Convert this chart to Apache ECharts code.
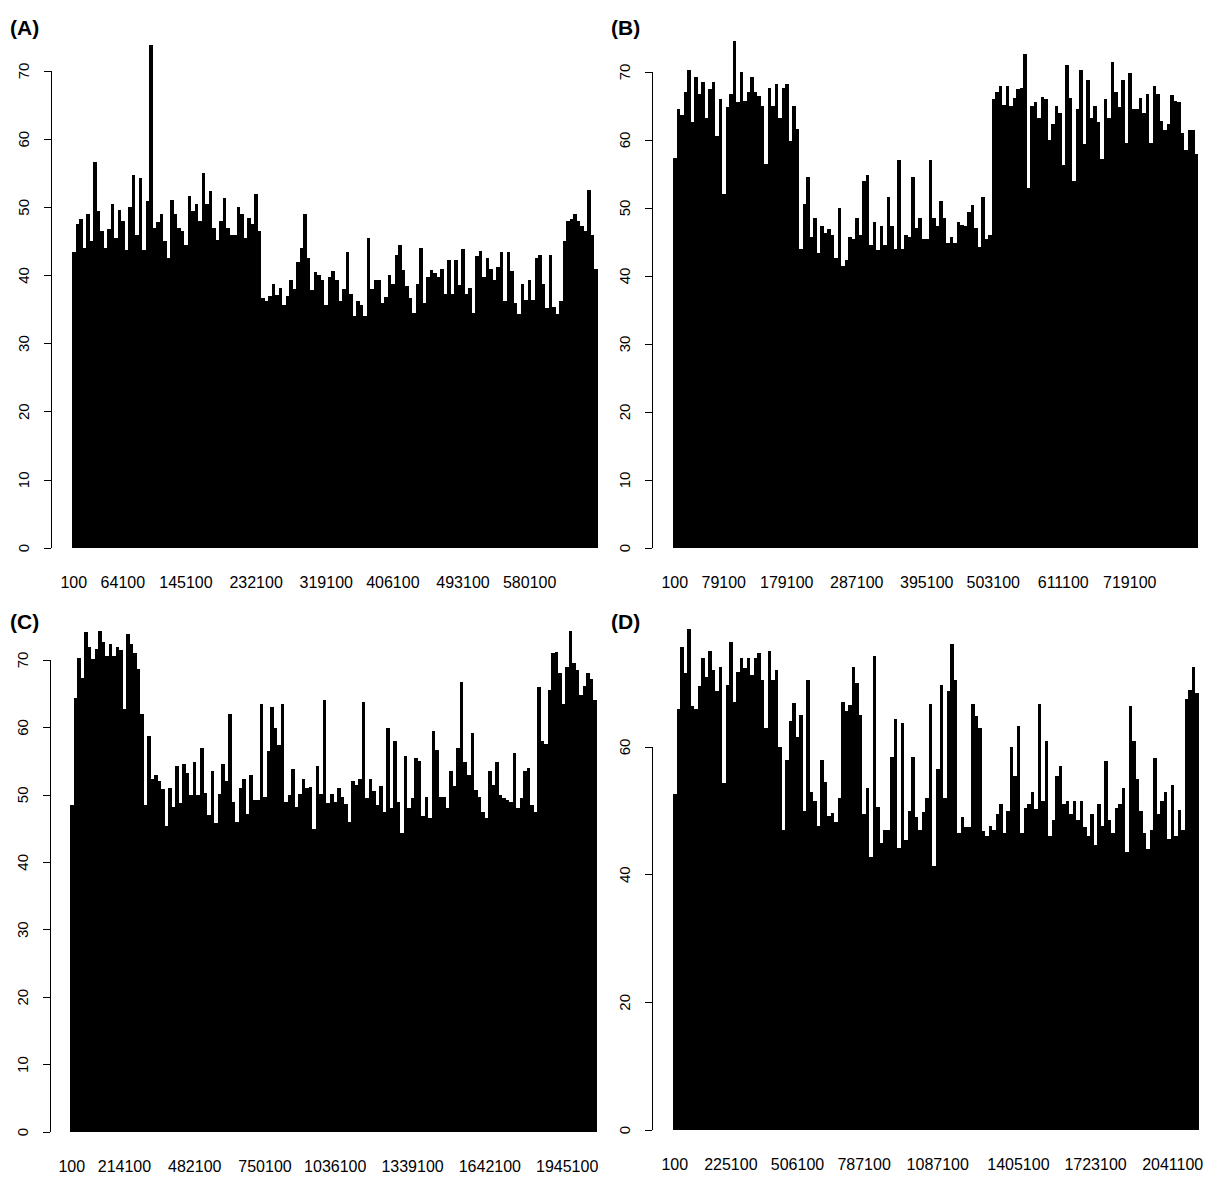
<!DOCTYPE html>
<html>
<head>
<meta charset="utf-8">
<script src="https://cdn.jsdelivr.net/npm/echarts@6/dist/echarts.min.js"></script>
<style>
  html, body { margin: 0; padding: 0; background: #fff; }
  #main { width: 1209px; height: 1177px; }
  /* snap bar edges to whole pixels so neighbouring bars leave no grey seam */
  #main path { shape-rendering: crispEdges; }
</style>
</head>
<body>
<div id="main"></div>
<script>
// bar heights (one value per bar, left to right)
var valuesA = [
  43.4, 47.5, 48.3, 44.0, 49.0, 45.0, 56.6, 49.5, 46.5, 44.0,
  46.8, 50.5, 45.5, 49.6, 48.0, 43.7, 50.0, 54.7, 46.0, 54.3,
  43.7, 50.9, 73.8, 47.0, 47.8, 49.0, 45.0, 42.5, 51.0, 49.0,
  47.0, 46.5, 44.5, 51.7, 49.5, 50.5, 48.0, 55.0, 50.5, 52.4,
  47.0, 45.2, 48.0, 51.3, 47.0, 46.0, 46.0, 50.0, 49.0, 45.5,
  48.5, 47.5, 52.0, 46.5,
  36.7, 36.2, 37.0, 38.8, 37.2, 38.2, 35.7, 37.0, 39.3, 38.0,
  42.0, 44.0, 49.0, 42.5, 37.8, 40.5, 40.0, 39.3, 35.7, 39.8,
  40.6, 39.3, 36.2, 38.0, 43.5, 37.3, 34.0, 36.2, 35.7, 34.0,
  45.5, 38.0, 39.4, 39.3, 35.9, 36.8, 40.0, 38.8, 43.0, 44.5,
  40.8, 38.4, 36.7, 34.5, 38.8, 44.0, 35.9, 39.8, 40.8, 40.3,
  39.8, 41.0, 37.3, 42.3, 37.3, 42.2, 38.6, 43.9, 37.3, 38.2,
  34.5, 42.8, 43.6, 39.8, 42.6, 41.0, 39.3, 41.3, 43.5, 36.2,
  43.5, 40.6, 35.9, 34.3, 38.8, 36.4, 39.3, 36.4, 42.5, 43.0,
  38.8, 35.2, 43.0, 35.3, 34.3, 36.2,
  45.0, 48.0, 48.3, 49.0, 48.0, 47.3, 46.5, 52.6, 46.0, 41.0
];
var valuesB = [
  57.3, 64.5, 63.7, 67.0, 70.3, 62.6, 69.3, 66.7, 68.6, 63.3,
  67.5, 68.6, 60.6, 66.0, 52.0, 64.8, 66.7, 74.5, 65.6, 70.0,
  65.8, 67.0, 69.2, 67.0, 66.5, 65.0, 56.5, 67.6, 65.0, 68.2,
  63.2, 67.6, 68.2, 59.8, 65.0, 61.6,
  44.0, 50.6, 54.6, 45.7, 48.5, 43.4, 47.4, 46.3, 46.9, 46.0,
  42.6, 50.0, 41.5, 42.3, 45.7, 45.5, 48.5, 46.0, 54.0, 54.8,
  44.5, 48.0, 43.8, 47.3, 44.6, 51.6, 47.3, 43.9, 57.0, 43.9,
  46.0, 45.8, 54.5, 47.0, 48.5, 45.5, 45.5, 57.1, 48.5, 47.3,
  51.0, 48.5, 44.8, 45.8, 44.9, 48.0, 47.5, 47.3, 49.4, 50.5,
  47.0, 44.2, 51.6, 45.5, 46.0,
  66.0, 67.0, 68.0, 65.1, 68.0, 65.0, 66.2, 67.5, 67.7, 72.6,
  53.0, 65.0, 65.6, 63.3, 66.3, 66.0, 60.0, 62.3, 65.0, 64.0,
  56.3, 71.0, 66.2, 54.0, 64.6, 70.3, 59.4, 68.8, 63.3, 65.0,
  62.6, 57.2, 66.0, 63.3, 71.5, 67.0, 64.8, 68.8, 59.6, 69.9,
  64.6, 64.6, 66.2, 64.0, 66.8, 59.6, 68.0, 66.8, 62.8, 61.5,
  62.3, 66.6, 65.8, 65.6, 61.1, 58.5, 61.4, 61.5, 58.0
];
var valuesC = [
  48.5, 64.3, 70.3, 67.3, 74.1, 72.0, 70.1, 71.6, 74.3, 72.7,
  70.6, 72.4, 70.6, 72.0, 71.5, 62.8, 73.8, 72.4, 71.0, 68.7, 62.0,
  48.5, 58.7, 52.3, 53.0, 52.0, 50.8, 45.4, 51.0, 48.2, 54.3,
  48.8, 54.6, 53.3, 50.0, 54.8, 50.0, 57.0, 50.3, 47.0, 53.6,
  45.9, 50.2, 54.6, 52.0, 62.0, 49.0, 46.0, 51.0, 52.3, 47.2,
  53.0, 49.2, 49.2, 63.5, 49.7, 56.5, 63.0, 59.9, 57.4, 63.5,
  49.0, 50.0, 53.8, 48.2, 50.2, 52.3, 51.0, 51.2, 45.0, 54.3,
  50.2, 64.0, 48.8, 50.2, 49.0, 51.0, 49.7, 48.6, 46.0, 52.0,
  51.5, 52.3, 63.7, 49.5, 52.3, 50.6, 48.5, 51.3, 47.5, 59.9,
  48.0, 58.0, 49.0, 44.4, 55.8, 48.0, 49.5, 55.5, 55.0, 46.8,
  49.7, 46.5, 59.4, 56.7, 49.7, 49.7, 48.0, 53.6, 51.3, 57.0,
  66.8, 54.8, 53.0, 59.2, 50.7, 49.7, 47.5, 46.5, 53.5, 51.5,
  54.8, 50.0, 49.5, 49.3, 49.0, 56.2, 48.0, 49.5, 53.5, 54.0, 48.5, 47.5,
  66.0, 58.0, 57.5, 65.6, 71.0, 71.2, 68.0, 63.5, 69.0, 74.3,
  69.5, 68.5, 64.8, 66.2, 68.0, 67.2, 64.0
];
var valuesD = [
  52.7, 66.0, 75.6, 71.6, 78.5, 66.4, 66.0, 69.5, 74.0, 71.0,
  75.0, 72.0, 68.8, 72.6, 54.3, 69.7, 76.4, 67.0, 71.8, 74.0,
  72.3, 74.0, 71.3, 74.0, 74.8, 70.5, 63.0, 75.1, 70.5, 72.0,
  60.0, 47.0, 58.0, 64.0, 66.9, 61.5, 65.0, 50.0, 70.5, 53.0,
  51.5, 47.6, 58.0, 54.5, 49.2, 49.7, 48.3, 52.0, 67.0, 65.7,
  66.6, 72.5, 70.0, 65.0, 49.5, 53.5, 42.8, 74.3, 50.6, 45.0,
  47.0, 47.0, 58.5, 64.4, 44.2, 63.8, 45.5, 50.0, 58.5, 49.0,
  47.0, 49.8, 52.0, 66.8, 41.4, 56.5, 69.7, 52.0, 68.8, 76.1,
  70.5, 46.5, 49.0, 47.5, 47.5, 66.8, 64.8, 63.0, 46.8, 46.0,
  47.6, 47.0, 49.5, 51.0, 46.5, 50.0, 60.0, 55.5, 63.3, 46.5,
  50.5, 51.0, 53.0, 50.3, 66.8, 51.5, 61.0, 46.0, 48.5, 55.4,
  57.0, 51.0, 51.5, 49.5, 51.5, 48.5, 51.5, 47.5, 46.0, 49.5,
  44.6, 51.0, 47.6, 57.8, 48.6, 46.5, 50.5, 51.0, 53.5, 43.5,
  66.4, 61.0, 55.0, 50.0, 46.5, 44.0, 47.0, 58.3, 49.5, 51.5,
  53.0, 45.6, 54.0, 46.0, 50.2, 47.0, 67.5, 69.0, 72.5, 68.5
];

// x tick labels and the bar each one sits under
var labelsA = ['100', '64100', '145100', '232100', '319100', '406100', '493100', '580100'];
var labelIdxA = [0, 14, 32, 52, 72, 91, 111, 130];
var labelsB = ['100', '79100', '179100', '287100', '395100', '503100', '611100', '719100'];
var labelIdxB = [0, 14, 32, 52, 72, 91, 111, 130];
var labelsC = ['100', '214100', '482100', '750100', '1036100', '1339100', '1642100', '1945100'];
var labelIdxC = [0, 15, 35, 55, 75, 97, 119, 141];
var labelsD = ['100', '225100', '506100', '787100', '1087100', '1405100', '1723100', '2041100'];
var labelIdxD = [0, 16, 35, 54, 75, 98, 120, 142];

var panelNames = ['(A)', '(B)', '(C)', '(D)'];

var FONT = '"Liberation Sans", Arial, sans-serif';

function categories(n, labels, idx) {
    var cats = [];
    for (var i = 0; i < n; i++) cats.push('');
    labels.forEach(function (t, k) { cats[idx[k]] = t; });
    return cats;
}

var panels = [
    { values: valuesA, labels: labelsA, idx: labelIdxA, max: 70, step: 10,
      grid: { left: 72, top: 71, width: 526, height: 477 }, offset: 21 },
    { values: valuesB, labels: labelsB, idx: labelIdxB, max: 70, step: 10,
      grid: { left: 673, top: 72, width: 525, height: 476 }, offset: 21 },
    { values: valuesC, labels: labelsC, idx: labelIdxC, max: 70, step: 10,
      grid: { left: 70, top: 660, width: 527, height: 472 }, offset: 20 },
    { values: valuesD, labels: labelsD, idx: labelIdxD, max: 60, step: 20,
      grid: { left: 673, top: 747, width: 526, height: 383 }, offset: 21 }
];

var titlePos = [[10, 17], [611, 17], [10, 611], [611, 611]];

const chart = echarts.init(document.getElementById('main'), null, { renderer: 'svg' });

chart.setOption({
    animation: false,
    backgroundColor: '#fff',
    title: panelNames.map(function (name, i) {
        return {
            text: name,
            left: titlePos[i][0],
            top: titlePos[i][1],
            padding: 0,
            textStyle: { fontFamily: FONT, fontSize: 21, fontWeight: 'bold', color: '#000' }
        };
    }),
    grid: panels.map(function (p) { return p.grid; }),
    xAxis: panels.map(function (p, i) {
        return {
            gridIndex: i,
            type: 'category',
            data: categories(p.values.length, p.labels, p.idx),
            axisLine: { show: false },
            axisTick: { show: false },
            axisLabel: {
                interval: 0,
                margin: 26,
                fontSize: 16,
                fontFamily: FONT,
                color: '#000'
            }
        };
    }),
    yAxis: panels.map(function (p, i) {
        return {
            gridIndex: i,
            type: 'value',
            min: 0,
            max: p.max,
            interval: p.step,
            offset: p.offset,
            splitLine: { show: false },
            axisLine: { show: true, lineStyle: { color: '#000', width: 1 } },
            axisTick: { show: true, length: 7, lineStyle: { color: '#000', width: 1 } },
            axisLabel: {
                rotate: 90,
                margin: 20,
                fontSize: 15,
                fontFamily: FONT,
                color: '#000'
            }
        };
    }),
    series: panels.map(function (p, i) {
        return {
            type: 'bar',
            xAxisIndex: i,
            yAxisIndex: i,
            data: p.values,
            clip: false,
            silent: true,
            barCategoryGap: '0%',
            itemStyle: { color: '#000' }
        };
    })
});
</script>
</body>
</html>
